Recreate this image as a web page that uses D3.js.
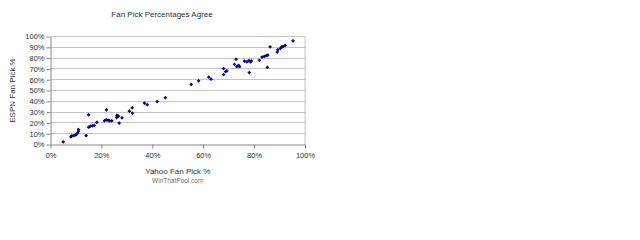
<!DOCTYPE html>
<html>
<head>
<meta charset="utf-8">
<script src="https://cdn.jsdelivr.net/npm/d3@7"></script>
<style>
body { margin:0; background:#fff; }
svg text { font-family:"Liberation Sans", Arial, sans-serif; fill:#333; }
.tick line { stroke:#888; }
.domain { stroke:#888; }
</style>
</head>
<body>
<svg id="chart"></svg>
<script>
// Yahoo fan pick % (x) vs ESPN fan pick % (y)
var yahoo = [5,8,8.4,9.2,9.8,10.2,10.6,11,11,14,15,15,15.7,16.5,17.2,18.2,21.2,21.9,22.6,23.2,24.1,22,
    26.1,26.7,26,28.1,27,31,32.1,32.2,36.9,38,41.9,45.1,55.3,58.2,62.2,63.1,68,68.8,69.3,68,
    72.9,72.3,73.2,73.9,74.3,76.2,77.2,78,78.6,78.9,78.1,82.1,83.1,84,84.8,85.4,85.2,86.3,
    89.1,89.3,90.3,90.8,91.4,92.2,95.3]
var espn = [2.5,7.2,8,8.3,9,9.3,10.5,12.3,13.9,8.2,27.5,16,17,17.3,17.6,20.6,21.9,22.9,22.5,21.9,21.9,32.1,
    26.9,26.2,25,24.7,19.9,30.8,34,29,38.4,36.9,39.6,43.3,55.6,59,62.3,60.5,70.3,67.5,68.1,64.8,
    79,74.1,72.2,73.3,72,77.2,76.6,77.7,76.4,77.4,66.6,77.9,81,81.5,82.2,82.8,71.4,90.4,
    85.6,87.7,88.9,90.1,90.8,91.7,96]
var xTicks = [0,20,40,60,80,100]
var yTicks = [0,10,20,30,40,50,60,70,80,90,100]

var screen = {width:640,height:240}
var margins = {left:50.5,top:36.5}
var graph = {width:254.5,height:108}

var svg = d3.select("#chart")
    .attr("width",screen.width)
    .attr("height",screen.height)

var xScale = d3.scaleLinear().domain([0,100]).range([0,graph.width])
var yScale = d3.scaleLinear().domain([0,100]).range([graph.height,0])

var plot = svg.append("g")
    .attr("transform","translate("+margins.left+","+margins.top+")")

// gridlines
plot.selectAll("line.grid")
    .data(yTicks.filter(function(d){ return d>0 }))
    .enter()
    .append("line")
    .attr("class","grid")
    .attr("x1",0)
    .attr("x2",graph.width)
    .attr("y1",function(d){ return Math.round(yScale(d)) })
    .attr("y2",function(d){ return Math.round(yScale(d)) })
    .attr("stroke","#c4c4c4")

// right border of plot area
plot.append("line")
    .attr("x1",graph.width).attr("x2",graph.width)
    .attr("y1",0).attr("y2",graph.height)
    .attr("stroke","#c4c4c4")

var xAxis = d3.axisBottom(xScale)
    .tickValues(xTicks)
    .tickSize(4)
    .tickSizeOuter(0)
    .tickFormat(function(d){ return d+"%" })
plot.append("g")
    .attr("transform","translate(0,"+graph.height+")")
    .call(xAxis)
    .call(function(g){
        g.selectAll("text").attr("font-size",7.5).attr("dy","0.9em").attr("fill","#333")
    })

var yAxis = d3.axisLeft(yScale)
    .tickValues(yTicks)
    .tickSize(4)
    .tickSizeOuter(0)
    .tickFormat(function(d){ return d+"%" })
plot.append("g")
    .call(yAxis)
    .call(function(g){
        g.selectAll("text").attr("font-size",7.5).attr("x",-6).attr("fill","#333")
    })

// points
var pts = yahoo.map(function(x,i){ return {x:x,y:espn[i]} })
plot.selectAll("path.pt")
    .data(pts)
    .enter()
    .append("path")
    .attr("class","pt")
    .attr("d",d3.symbol().type(d3.symbolDiamond2).size(9))
    .attr("transform",function(d){ return "translate("+xScale(d.x)+","+yScale(d.y)+")" })
    .attr("fill","#000080")

// labels
svg.append("text")
    .text("Fan Pick Percentages Agree")
    .attr("x",162).attr("y",17)
    .attr("text-anchor","middle")
    .attr("font-size",8)

svg.append("text")
    .text("Yahoo Fan Pick %")
    .attr("x",margins.left+graph.width/2).attr("y",174)
    .attr("text-anchor","middle")
    .attr("font-size",8)

svg.append("text")
    .text("WinThatPool.com")
    .attr("x",margins.left+graph.width/2).attr("y",183)
    .attr("text-anchor","middle")
    .attr("font-size",6.5)
    .style("fill","#777")

svg.append("text")
    .text("ESPN Fan Pick %")
    .attr("transform","translate(15,"+(margins.top+graph.height/2)+") rotate(-90)")
    .attr("text-anchor","middle")
    .attr("font-size",8)
</script>
</body>
</html>
